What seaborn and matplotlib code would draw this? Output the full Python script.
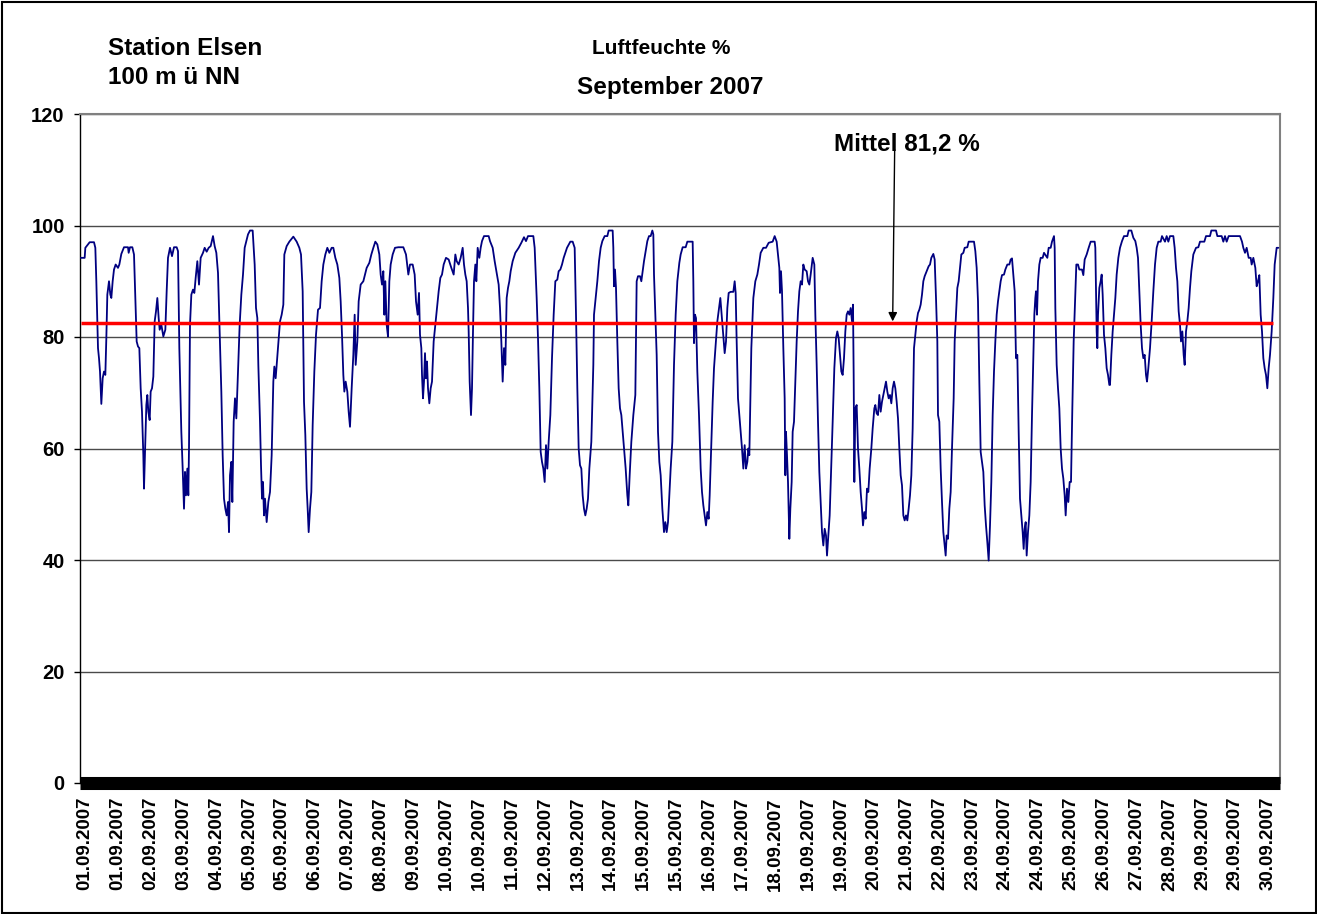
import numpy as np
import pandas as pd
import matplotlib
matplotlib.use("Agg")
import matplotlib.pyplot as plt
import seaborn as sns
from matplotlib.patches import Rectangle

# ---------------- data (hours since 01.09.2007 00:00, relative humidity %) ----------------
h1 = [0.4, 2.8, 3.2, 5.8, 8.4, 9.2, 9.8, 10.4, 10.8, 11.4, 12.0, 12.8, 13.6, 14.4, 15.2, 15.8, 16.4, 17.4, 18.2, 18.8,
      19.6, 20.4, 21.4, 22.8, 23.6, 24.8, 26.4, 28.8, 29.2, 30.0, 31.4, 32.4, 33.2, 34.0, 34.8, 35.6, 36.4, 37.2, 38.0, 38.4,
      39.2, 39.8, 40.4, 41.0, 41.8, 42.4, 43.2, 44.0, 44.8, 45.6, 46.4, 47.2, 47.8, 48.8, 50.0, 51.2, 52.0, 52.8, 54.0, 55.2,
      56.4, 58.0, 58.8, 59.6, 60.8, 61.6, 62.4, 63.0, 63.6, 64.4, 65.0, 65.4, 66.0, 66.8, 67.8, 68.6, 69.4, 70.4, 71.4, 72.4,
      73.8, 74.8, 76.0, 77.2, 78.4, 79.8, 80.8, 81.8, 82.8, 83.8, 84.8, 85.6, 86.4, 87.2, 88.0, 88.8, 89.4, 90.0, 90.8, 91.4,
      92.2, 93.0, 93.8, 94.8, 95.8, 96.8, 97.8, 98.8, 100.8]
rh1 = [94.2, 94.2, 96, 97, 97, 96, 90, 82.8, 78, 76.2, 73.8, 68, 72.6, 73.8, 73.2, 79.8, 87.6, 90, 87.6, 87,
       90, 92.1, 93, 92.4, 93, 94.9, 96.1, 96.1, 95.1, 96.1, 96.1, 94.8, 87, 79.2, 78.3, 78, 70.8, 66.6, 58.8, 52.8,
       61.2, 67.8, 69.6, 66.6, 65.1, 70.2, 70.8, 72.9, 82.8, 84.6, 87, 83.4, 81.3, 82.2, 80.1, 81.3, 88.2, 94.2, 96, 94.5,
       96.1, 96.1, 95.4, 78, 63, 56.4, 49.2, 55.8, 51.6, 56.4, 51.6, 60, 82.2, 87.6, 88.5, 87.9, 90.6, 93.6, 89.4, 94.2,
       95.1, 96, 95.3, 96, 96.3, 98.1, 96.3, 95.1, 91.5, 81, 70.2, 58.8, 51, 49.2, 48, 50.4, 45, 55.2, 57.6, 50.4,
       64.8, 69, 65.4, 73.8, 82.2, 87.6, 91.2, 96, 98.4]

h2 = [102.0, 103.6, 104.8, 105.6, 106.4, 107.0, 108.0, 108.6, 109.2, 109.8, 110.4, 111.0, 112.0, 113.0, 114.0, 115.0, 116.0, 116.6, 117.4, 118.0,
      119.0, 120.0, 121.0, 122.0, 122.6, 124.0, 125.6, 128.0, 130.0, 131.6, 132.6, 133.6, 134.4, 135.2, 136.0, 136.6, 137.2, 138.0, 138.8, 139.6,
      140.6, 141.6, 142.8, 144.0, 145.0, 146.0, 147.2, 148.4, 149.6, 151.0, 152.0, 153.2, 154.4, 155.6, 156.4, 157.2, 158.0, 158.6, 159.4, 160.4,
      161.2, 162.0, 163.0, 164.0, 164.8, 165.4, 166.4, 167.2, 168.4, 170.0, 171.0, 172.0, 173.6, 174.8, 176.0, 177.2, 178.4, 179.6, 180.4, 181.2,
      182.0, 182.6, 183.2, 184.0, 184.8, 185.6, 186.4, 187.6, 189.0, 191.0, 194.0, 195.6, 197.0, 198.0, 199.6, 200.8, 201.6, 202.6, 203.4, 204.0, 204.8]
rh2 = [99.1, 99.1, 93, 85.2, 83.4, 75, 64.8, 57, 51, 54, 48, 51, 46.8, 50.4, 52.2, 58.8, 72, 74.7, 72.6, 75,
       79.2, 82.8, 84, 85.8, 94.8, 96.3, 97.1, 98, 97.1, 96, 94.8, 88.2, 68.4, 62.4, 52.8, 49.2, 45, 49.2, 52.2, 64.2,
       73.8, 80.4, 84.9, 85.2, 90, 93, 94.8, 96, 95.1, 96, 96, 94.2, 93, 90.6, 86.4, 80.4, 73.2, 70.2, 72, 70.2,
       66.6, 63.9, 70.8, 76.8, 84, 75, 79.2, 86.4, 89.4, 90, 91.2, 92.4, 93.3, 94.8, 96, 97.1, 96.6, 94.8, 91.2, 89.4,
       91.8, 84, 90, 82.2, 80.1, 90, 93, 94.8, 96, 96.1, 96.1, 94.8, 91.2, 93, 93, 91.2, 86.4, 84, 87.9, 80.4, 78]

h3 = [205.2, 205.8, 206.4, 207.0, 207.6, 208.2, 208.8, 209.6, 210.4, 211.2, 212.2, 213.2, 214.2, 215.2, 216.2, 217.2, 218.2, 219.6, 221.2, 222.8,
      224.2, 225.2, 226.0, 227.2, 228.4, 229.6, 230.4, 231.2, 232.0, 232.8, 233.2, 233.8, 234.6, 235.2, 235.8, 236.4, 237.2, 237.8, 238.6, 239.6,
      240.4, 241.2, 242.4, 245.2, 246.0, 247.6, 248.8, 250.2, 251.2, 252.0, 252.8, 253.6, 254.4, 255.2, 256.0, 256.8, 257.6, 258.4, 259.6, 261.2,
      263.2, 264.8, 266.4, 267.6, 268.8, 272.0, 272.8, 274.0, 274.8, 275.6, 276.4, 277.2, 278.0, 278.8, 279.6, 280.4, 281.2, 282.2, 283.2, 284.2,
      285.2, 286.4, 287.2, 288.2, 289.2, 290.2, 291.2, 292.2, 294.2, 295.6, 296.8, 297.6, 298.4, 299.2, 300.0, 300.8, 301.6, 302.4, 303.2, 304.0,
      304.8, 305.6, 306.8, 308.0]
rh3 = [73.2, 69, 72, 77.1, 72.6, 75.6, 70.8, 68.1, 70.8, 72, 79.2, 82.2, 85.2, 88.2, 90.6, 91.2, 93, 94.2, 93.9, 92.4,
       91.2, 94.8, 93.6, 93, 94.2, 96, 93, 91.2, 90, 85.2, 81, 72, 66, 70.8, 81, 90, 93, 90, 96, 94.2,
       96, 97.2, 98.1, 98.1, 97.2, 96, 93.6, 91.2, 89.4, 85.2, 79.2, 72, 78, 75, 87, 88.8, 90, 91.8, 93.6, 95.1,
       96, 96.9, 97.9, 97.2, 98.1, 98.1, 96, 87, 79.8, 70.8, 59.4, 57.6, 56.4, 54, 60.6, 56.4, 61.2, 66, 76.2, 84,
       90, 90.3, 91.8, 92.1, 93, 94.2, 95.1, 96, 97.1, 97.1, 96, 84, 70.8, 60, 57, 56.4, 51.6, 49.2, 48, 49.2,
       51, 56.4, 61.2, 75]

h4 = [308.4, 309.4, 310.4, 311.4, 312.4, 313.4, 314.8, 316.4, 317.2, 319.6, 320.0, 320.4, 321.0, 321.6, 322.4, 323.2, 324.0, 324.8, 325.6, 326.4,
      327.4, 328.4, 329.0, 329.8, 330.8, 332.0, 333.2, 334.0, 334.8, 336.0, 336.8, 337.6, 338.4, 339.4, 340.4, 341.4, 342.4, 343.4, 344.0, 344.4,
      345.2, 346.0, 346.8, 347.6, 348.4, 349.4, 350.4, 351.2, 352.0, 352.8, 353.6, 354.4, 355.4, 356.4, 357.4, 358.4, 359.6, 360.4, 361.6, 363.4,
      364.4, 367.6, 368.0, 368.4, 369.0, 369.6, 370.4, 371.4, 372.4, 373.2, 374.0, 374.8, 375.6, 376.4, 377.2, 377.8, 378.8, 379.6, 380.4, 381.4,
      382.4, 383.4, 384.2, 385.0, 386.0, 386.8, 387.6, 388.4, 389.2, 390.4, 392.0, 392.8, 393.4, 394.0, 394.8, 395.6, 396.4, 397.2, 398.0, 398.8,
      399.6, 400.4, 401.0, 401.6, 402.8, 404.0, 405.2, 406.4, 407.4, 408.4, 410.0]
rh4 = [84, 87, 90, 93.6, 96, 97.2, 98.1, 98.1, 99.1, 99.1, 96, 89.1, 92.1, 88.8, 79.2, 70.8, 67.2, 66, 63, 60,
       56.4, 51.6, 49.8, 55.2, 61.2, 66, 69.6, 90, 90.9, 90.9, 90, 91.8, 93.6, 95.4, 97.2, 98.1, 98.1, 99.1, 98.4, 91.2,
       84, 76.8, 63, 57.6, 55.2, 49.2, 45, 46.8, 45, 46.8, 51.6, 56.4, 61.2, 75, 84, 90, 93.3, 94.8, 96.1, 96.1,
       97.1, 97.1, 90, 78.9, 84, 83.4, 73.8, 66, 56.4, 52.2, 49.8, 48, 46.2, 48.6, 47.4, 51.6, 61.2, 68.4, 74.4, 78.6,
       82.8, 85.2, 87, 84, 80.4, 77.1, 79.2, 85.2, 87.9, 88.1, 88.1, 90, 87.9, 79.2, 69, 66, 63, 60, 56.4, 60.6,
       56.4, 57.6, 60, 58.8, 78, 87, 90, 91.2, 93, 95.1, 96]

h5 = [411.6, 413.2, 415.6, 416.8, 418.0, 418.8, 419.6, 420.0, 420.6, 421.2, 422.0, 422.8, 423.2, 423.6, 424.2, 424.8, 425.6, 426.2, 427.0, 427.6,
      428.4, 429.2, 430.0, 430.8, 431.6, 432.4, 433.2, 434.0, 434.8, 436.0, 436.8, 437.6, 438.4, 439.6, 440.6, 441.2, 442.0, 442.8, 443.6, 444.4,
      445.2, 446.0, 446.8, 447.6, 448.2, 449.0, 449.8, 450.6, 451.6, 452.6, 453.6, 454.4, 455.2, 456.0, 456.8, 457.6, 458.4, 459.2, 460.0, 460.8,
      461.6, 462.4, 463.2, 463.8, 464.2, 464.6, 465.2, 466.0, 466.8, 467.6, 468.4, 469.2, 469.8, 470.6, 471.4, 472.2, 473.0, 473.8, 474.8, 475.6,
      476.6, 477.2, 478.0, 478.8, 479.6, 480.4, 481.2, 482.0, 482.8, 483.6, 484.4, 485.2, 486.0, 486.8, 487.6, 488.4, 489.2, 490.0, 490.8, 491.6,
      492.4, 493.2, 494.0, 494.8, 495.6, 496.4, 497.2, 498.0, 498.8, 499.6, 500.4, 501.2, 502.0, 502.8, 503.6, 504.4, 505.2, 506.0, 506.8, 507.6,
      508.4, 509.2, 510.0, 510.8, 512.0, 512.8, 513.6, 514.4]
rh5 = [96, 96.9, 97.1, 98.1, 97.1, 94.8, 92.4, 87.9, 91.8, 88.2, 78, 69, 55.2, 63, 58.8, 54, 43.8, 49.2, 54, 63,
       64.8, 72, 79.2, 84.6, 88.2, 90, 89.4, 93, 92.1, 91.8, 90, 89.4, 91.2, 94.2, 93, 84, 75, 64.8, 55.8, 50.4,
       45, 42.6, 45.6, 44.4, 40.8, 44.4, 48, 55.2, 64.8, 74.4, 79.8, 81, 79.8, 76.8, 73.8, 73.2, 76.2, 81, 84, 84.6,
       84, 85.2, 82.8, 85.8, 73.2, 54, 67.2, 67.8, 60, 56.4, 52.2, 49.2, 46.2, 48.6, 47.4, 52.8, 52.2, 56.4, 60, 63.6,
       67.2, 67.8, 66.3, 66, 69.6, 66.6, 68.4, 69.6, 70.8, 72, 70.2, 69, 69.6, 68.1, 70.8, 72, 70.8, 68.4, 65.4, 60,
       55.2, 53.4, 48, 47.1, 48, 47.1, 49.2, 51.6, 55.2, 63.6, 78, 80.4, 82.8, 84.3, 84.9, 85.8, 87.6, 90, 90.9, 91.5,
       92.1, 92.7, 93, 94.2, 94.9, 93.9, 87, 79.2]

h6 = [514.8, 515.6, 516.4, 517.2, 518.0, 518.8, 519.4, 520.0, 520.8, 521.6, 522.4, 523.2, 524.2, 524.8, 525.6, 526.4, 527.2, 528.0, 528.8, 530.0,
      530.8, 532.4, 533.2, 536.4, 537.2, 538.0, 538.8, 539.6, 540.4, 541.2, 542.0, 542.8, 543.6, 544.4, 545.2, 546.0, 546.8, 547.6, 548.4, 549.2,
      550.0, 550.8, 551.6, 552.4, 553.2, 554.4, 555.2, 556.4, 557.6, 558.4, 559.2, 560.0, 560.8, 561.6, 562.4, 563.2, 564.0, 564.8, 565.6, 566.2,
      566.8, 567.4, 568.0, 568.8, 569.6, 570.4, 571.2, 572.0, 572.6, 573.2, 573.6, 574.2, 574.8, 575.6, 576.4, 577.6, 578.4, 580.4, 581.2, 582.4,
      583.2, 584.4, 584.8, 585.2, 586.0, 586.8, 587.6, 588.4, 589.2, 590.0, 590.8, 591.4, 592.2, 593.0, 593.8, 594.6, 595.4, 596.2, 597.0, 597.8,
      598.8, 599.6, 601.2, 602.0, 602.8, 604.0, 605.2, 606.4, 608.8, 609.2, 610.0, 610.4, 610.8, 611.6, 612.4, 613.0, 613.6, 614.4, 615.2, 616.0,
      616.8, 617.6]
rh6 = [66, 64.8, 56.4, 50.4, 45, 42.6, 40.8, 44.4, 43.8, 49.2, 52.2, 60, 69, 79.2, 84, 88.8, 90, 92.4, 94.8, 95.1,
       96, 96.1, 97.1, 97.1, 95.4, 92.4, 86.4, 72, 59.4, 57.6, 55.8, 49.8, 46.2, 43.2, 39.9, 46.2, 54, 66, 73.8, 79.2,
       84, 86.4, 88.2, 90, 91.1, 91.2, 92.1, 93, 93, 93.9, 94.1, 91.2, 88.2, 76.2, 76.8, 63, 51, 48, 45, 42,
       45.6, 46.8, 40.8, 45, 48, 54, 66, 76.8, 84, 87, 88.2, 84, 90, 93, 94.2, 94.2, 95.1, 94.2, 96, 96,
       97.1, 98.1, 96, 85.2, 75, 70.8, 67.2, 60, 56.4, 54.6, 51.6, 48, 52.8, 50.4, 54, 54, 67.2, 79.2, 86.4, 93,
       93, 92.1, 92.1, 91.1, 93.9, 94.8, 96, 97.1, 97.1, 96, 81, 78, 84, 88.8, 90, 91.2, 87.6, 80.4, 78, 74.4,
       73.2, 71.4]

h7 = [618.0, 618.8, 619.6, 620.4, 621.2, 622.0, 623.0, 624.0, 625.2, 626.4, 628.4, 629.2, 630.8, 632.0, 633.2, 634.0, 634.8, 635.6, 636.4, 637.2,
      638.0, 638.8, 639.6, 640.2, 641.0, 642.0, 643.0, 644.0, 645.0, 646.0, 647.0, 648.4, 649.2, 651.0, 652.0, 653.0, 654.0, 656.0, 656.8, 657.6,
      658.4, 659.2, 660.0, 660.6, 661.4, 662.2, 662.8, 663.6, 664.4, 665.2, 666.0, 666.8, 668.0, 669.6, 671.0, 672.0, 674.6, 675.6, 678.0, 678.8,
      681.6, 682.4, 685.0, 686.0, 687.0, 688.0, 689.2, 696.0, 697.2, 698.0, 699.0, 700.0, 701.2, 702.4, 703.0, 704.0, 705.2, 706.0, 706.8, 707.6,
      708.4, 709.2, 710.0, 710.8, 711.6, 712.4, 713.2, 714.0, 715.0, 716.0, 716.8, 718.0, 719.0]
rh7 = [71.4, 76.8, 81, 84, 87, 91.2, 94.2, 96, 97.2, 98.1, 98.1, 99.1, 99.1, 97.8, 97.2, 96, 94.2, 88.2, 82.2, 78,
       76.2, 76.8, 73.2, 72, 74.4, 78, 82.8, 88.2, 93, 96, 97.1, 97.1, 98.1, 97.1, 98.1, 97.1, 98.1, 98.1, 96, 92.4,
       90, 84.6, 82.2, 79.2, 81, 76.8, 75, 81, 82.8, 85.2, 88.8, 91.8, 94.8, 96, 96.1, 97.1, 97.1, 98.1, 98.1, 99.1,
       99.1, 98.1, 98.1, 97.1, 98.1, 97.1, 98.1, 98.1, 97.1, 96, 95.1, 96, 94.2, 94.2, 93, 94.2, 92.4, 89.1, 90, 91.1,
       84, 81, 76.2, 74.4, 73.2, 70.8, 74.4, 76.8, 81, 87, 93, 96, 96]

mean_line_value = 82.5          # drawn position of the red mean line
mean_label = "Mittel 81,2 %"
date_labels = ["01.09.2007", "01.09.2007", "02.09.2007", "03.09.2007", "04.09.2007", "05.09.2007", "05.09.2007",
               "06.09.2007", "07.09.2007", "08.09.2007", "09.09.2007", "10.09.2007", "10.09.2007", "11.09.2007",
               "12.09.2007", "13.09.2007", "14.09.2007", "15.09.2007", "15.09.2007", "16.09.2007", "17.09.2007",
               "18.09.2007", "19.09.2007", "19.09.2007", "20.09.2007", "21.09.2007", "22.09.2007", "23.09.2007",
               "24.09.2007", "24.09.2007", "25.09.2007", "26.09.2007", "27.09.2007", "28.09.2007", "29.09.2007",
               "29.09.2007", "30.09.2007"]
y_ticks = [0, 20, 40, 60, 80, 100, 120]

# ---------------- figure ----------------
W, H = 1317, 914
sns.set_style("white")
plt.rcParams['font.family'] = ['Liberation Sans', 'DejaVu Sans']
plt.rcParams['font.weight'] = 'bold'
plt.rcParams['text.color'] = 'black'
plt.rcParams['xtick.color'] = 'black'
plt.rcParams['ytick.color'] = 'black'
plt.rcParams['axes.labelcolor'] = 'black'

fig = plt.figure(figsize=(W / 100, H / 100), dpi=100)
L, R, T, B = 80, 1280, 114, 783
ax = fig.add_axes([L / W, 1 - B / H, (R - L) / W, (B - T) / H])

df = pd.DataFrame({
    "hours": h1 + h2 + h3 + h4 + h5 + h6 + h7,
    "rh": rh1 + rh2 + rh3 + rh4 + rh5 + rh6 + rh7,
})

ax.set_xlim(0, 720)
ax.set_ylim(0, 120)

# gridlines
ax.set_yticks(y_ticks)
ax.yaxis.grid(True, color='#4a4a4a', lw=1.0)
ax.set_axisbelow(True)

sns.lineplot(data=df, x="hours", y="rh", color='#000080', lw=1.3, ax=ax,
             sort=False, estimator=None, zorder=3)

# mean line
ax.hlines(mean_line_value, 0.4, 716, color='#FF0000', lw=2.5, zorder=4)

# arrow + label
ax.annotate('', xy=(487.6, mean_line_value + 0.3), xytext=(488.8, 113.6),
            arrowprops=dict(arrowstyle='-|>', color='black', lw=1.0, mutation_scale=13,
                            shrinkA=0, shrinkB=0), zorder=5)

# thick black band at zero (dense category tick marks)
band = ax.axhline(0, color='black', lw=9.4, clip_on=False, zorder=6)
band.set_solid_capstyle('butt')

# spines
for s in ['top', 'right']:
    ax.spines[s].set_color('#808080')
    ax.spines[s].set_linewidth(1.5)
ax.spines['left'].set_color('black')
ax.spines['left'].set_linewidth(1.0)
ax.spines['bottom'].set_visible(False)

# ticks
tick_pos = [3.0 + i * 19.72 for i in range(len(date_labels))]
ax.set_xticks(tick_pos)
ax.set_xticklabels(date_labels, rotation=90, fontsize=13.5, fontweight='bold', color='black')
ax.tick_params(axis='x', length=0, pad=10)
ax.set_yticklabels([str(v) for v in y_ticks], fontsize=14.5, fontweight='bold', color='black')
ax.tick_params(axis='y', length=4, width=1, color='black', pad=7, left=True, direction='out')
ax.set_xlabel('')
ax.set_ylabel('')


def ftext(x, y, s, size, ha='left'):
    fig.text(x / W, 1 - y / H, s, fontsize=size, fontweight='bold', ha=ha, va='baseline', color='black')


ftext(108, 55, "Station Elsen", 17.5)
ftext(108, 84, "100 m ü NN", 17.5)
ftext(661, 54, "Luftfeuchte %", 15, ha='center')
ftext(670, 94, "September 2007", 17.5, ha='center')
ftext(834, 151, mean_label, 17.5)

# outer chart border
fig.patches.append(Rectangle((1.5 / W, 1.5 / H), (W - 3) / W, (H - 3.5) / H, transform=fig.transFigure,
                             fill=False, lw=1.5, ec='black'))

fig.savefig("out.png", dpi=100, facecolor='white')
